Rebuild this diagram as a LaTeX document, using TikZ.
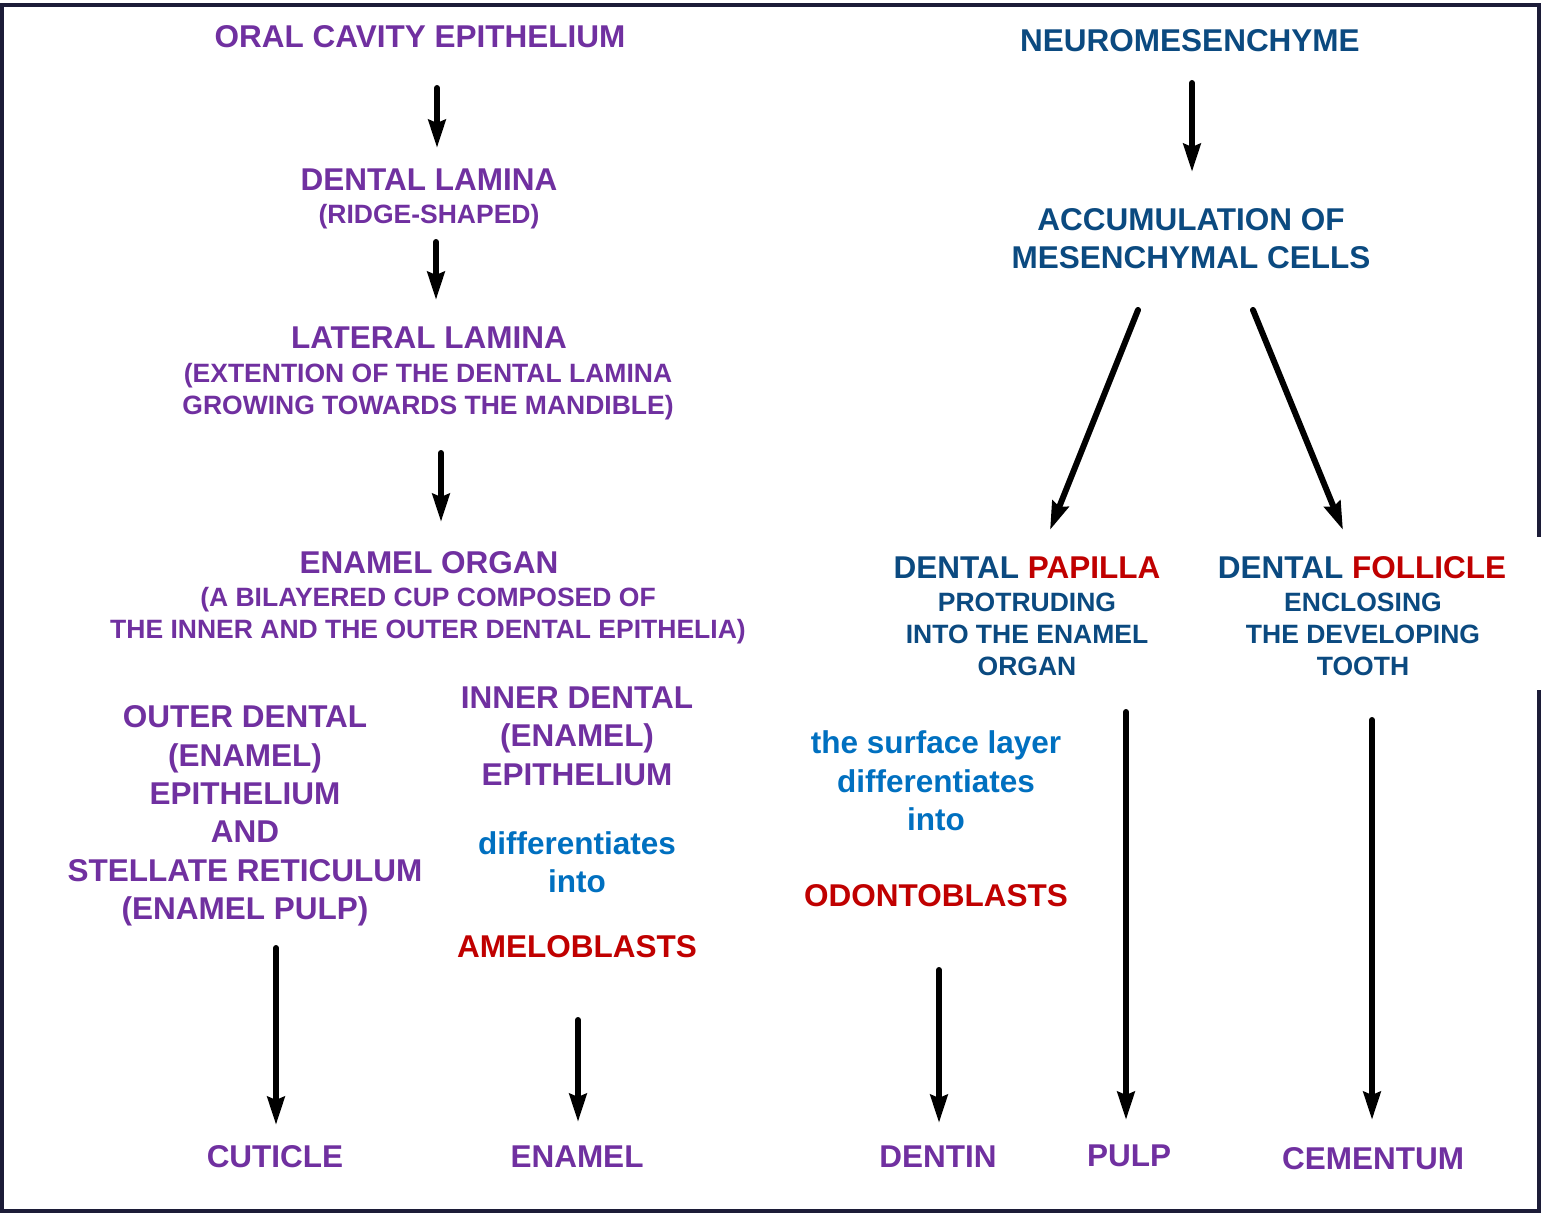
\documentclass[tikz,border=0pt]{standalone}
\usepackage{fontspec}
\setmainfont{Liberation Sans}
\usetikzlibrary{arrows.meta}
\definecolor{purp}{HTML}{7030A0}
\definecolor{dblue}{HTML}{0B4A80}
\definecolor{dred}{HTML}{C00000}
\definecolor{lblue}{HTML}{0070C0}
\definecolor{framec}{HTML}{1C1C38}
\tikzset{
  big/.style={anchor=base, inner sep=0pt, font=\fontsize{31.5}{38}\selectfont\bfseries},
  small/.style={anchor=base, inner sep=0pt, font=\fontsize{26.5}{32}\selectfont\bfseries},
  pu/.style={text=purp}, bl/.style={text=dblue}, rd/.style={text=dred}, lb/.style={text=lblue},
  arr/.style={line width=6pt, line cap=round, -{Stealth[length=28pt,width=17pt,inset=3pt]}},
}
\begin{document}
\begin{tikzpicture}[x=1pt,y=-1pt]
\useasboundingbox (0,0) rectangle (1543,1215);
\fill[white] (0,0) rectangle (1543,1215);
\draw[framec, line width=4pt] (2,5) rectangle (1539,1211);
\fill[white] (1530,537) rectangle (1543,690);

% left column
\node[big,pu] (oral) at (420,48) {ORAL CAVITY EPITHELIUM};
\node[big,pu] (dl1) at (429,190) {DENTAL LAMINA};
\node[small,pu] (dl2) at (429,223) {(RIDGE-SHAPED)};
\node[big,pu] (ll1) at (429,348) {LATERAL LAMINA};
\node[small,pu] (ll2) at (428,382.5) {(EXTENTION OF THE DENTAL LAMINA};
\node[small,pu] (ll3) at (428,414.5) {GROWING TOWARDS THE MANDIBLE)};
\node[big,pu] (eo1) at (429,573) {ENAMEL ORGAN};
\node[small,pu] (eo2) at (428,606.5) {(A BILAYERED CUP COMPOSED OF};
\node[small,pu] (eo3) at (428,638.5) {THE INNER AND THE OUTER DENTAL EPITHELIA)};

\node[big,pu] (out1) at (245,727) {OUTER DENTAL};
\node[big,pu] (out2) at (245,766) {(ENAMEL)};
\node[big,pu] (out3) at (245,804) {EPITHELIUM};
\node[big,pu] (out4) at (245,842) {AND};
\node[big,pu] (out5) at (245,881) {STELLATE RETICULUM};
\node[big,pu] (out6) at (245,919) {(ENAMEL PULP)};

\node[big,pu] (in1) at (577,708) {INNER DENTAL};
\node[big,pu] (in2) at (577,746) {(ENAMEL)};
\node[big,pu] (in3) at (577,785) {EPITHELIUM};
\node[big,lb] (in4) at (577,854) {differentiates};
\node[big,lb] (in5) at (577,892) {into};
\node[big,rd] (amelo) at (577,957) {AMELOBLASTS};

\node[big,pu] (cuticle) at (275,1167) {CUTICLE};
\node[big,pu] (enamel) at (577,1167) {ENAMEL};

% right column
\node[big,bl] (neuro) at (1190,52) {NEUROMESENCHYME};
\node[big,bl] (acc1) at (1191,230) {ACCUMULATION OF};
\node[big,bl] (acc2) at (1191,268) {MESENCHYMAL CELLS};

\node[big,bl] (pap1) at (1027,578) {DENTAL \textcolor{dred}{PAPILLA}};
\node[small,bl] (pap2) at (1027,611.5) {PROTRUDING};
\node[small,bl] (pap3) at (1027,643.5) {INTO THE ENAMEL};
\node[small,bl] (pap4) at (1027,675.5) {ORGAN};

\node[big,bl] (fol1) at (1362,578) {DENTAL \textcolor{dred}{FOLLICLE}};
\node[small,bl] (fol2) at (1363,611.5) {ENCLOSING};
\node[small,bl] (fol3) at (1363,643.5) {THE DEVELOPING};
\node[small,bl] (fol4) at (1363,675.5) {TOOTH};

\node[big,lb] (sur1) at (936,753) {the surface layer};
\node[big,lb] (sur2) at (936,792) {differentiates};
\node[big,lb] (sur3) at (936,830) {into};
\node[big,rd] (odonto) at (936,906) {ODONTOBLASTS};

\node[big,pu] (dentin) at (938,1167) {DENTIN};
\node[big,pu] (pulp) at (1129,1166) {PULP};
\node[big,pu] (cementum) at (1373,1169) {CEMENTUM};

% arrows
\draw[arr] ([xshift=17pt,yshift=-40pt]oral.base) -- ([xshift=8pt,yshift=42pt]dl1.base);
\draw[arr] ([xshift=7pt,yshift=-19pt]dl2.base) -- ([xshift=7pt,yshift=48pt]ll1.base);
\draw[arr] ([xshift=13pt,yshift=-38.5pt]ll3.base) -- ([xshift=12pt,yshift=51pt]eo1.base);
\draw[arr] ([xshift=31pt,yshift=-29pt]out6.base) -- ([xshift=1pt,yshift=42pt]cuticle.base);
\draw[arr] ([xshift=1pt,yshift=-63pt]amelo.base) -- ([xshift=1pt,yshift=45pt]enamel.base);

\draw[arr] ([xshift=2pt,yshift=-31pt]neuro.base) -- ([xshift=1pt,yshift=58pt]acc1.base);
\draw[arr] ([xshift=-53pt,yshift=-42pt]acc2.base) -- ([xshift=23pt,yshift=48pt]pap1.base);
\draw[arr] ([xshift=62pt,yshift=-42pt]acc2.base) -- ([xshift=-19pt,yshift=48pt]fol1.base);
\draw[arr] ([xshift=3pt,yshift=-64pt]odonto.base) -- ([xshift=1pt,yshift=44pt]dentin.base);
\draw[arr] ([xshift=99pt,yshift=-36.5pt]pap4.base) -- ([xshift=-3pt,yshift=46pt]pulp.base);
\draw[arr] ([xshift=9pt,yshift=-44.5pt]fol4.base) -- ([xshift=-1pt,yshift=49pt]cementum.base);
\end{tikzpicture}
\end{document}
